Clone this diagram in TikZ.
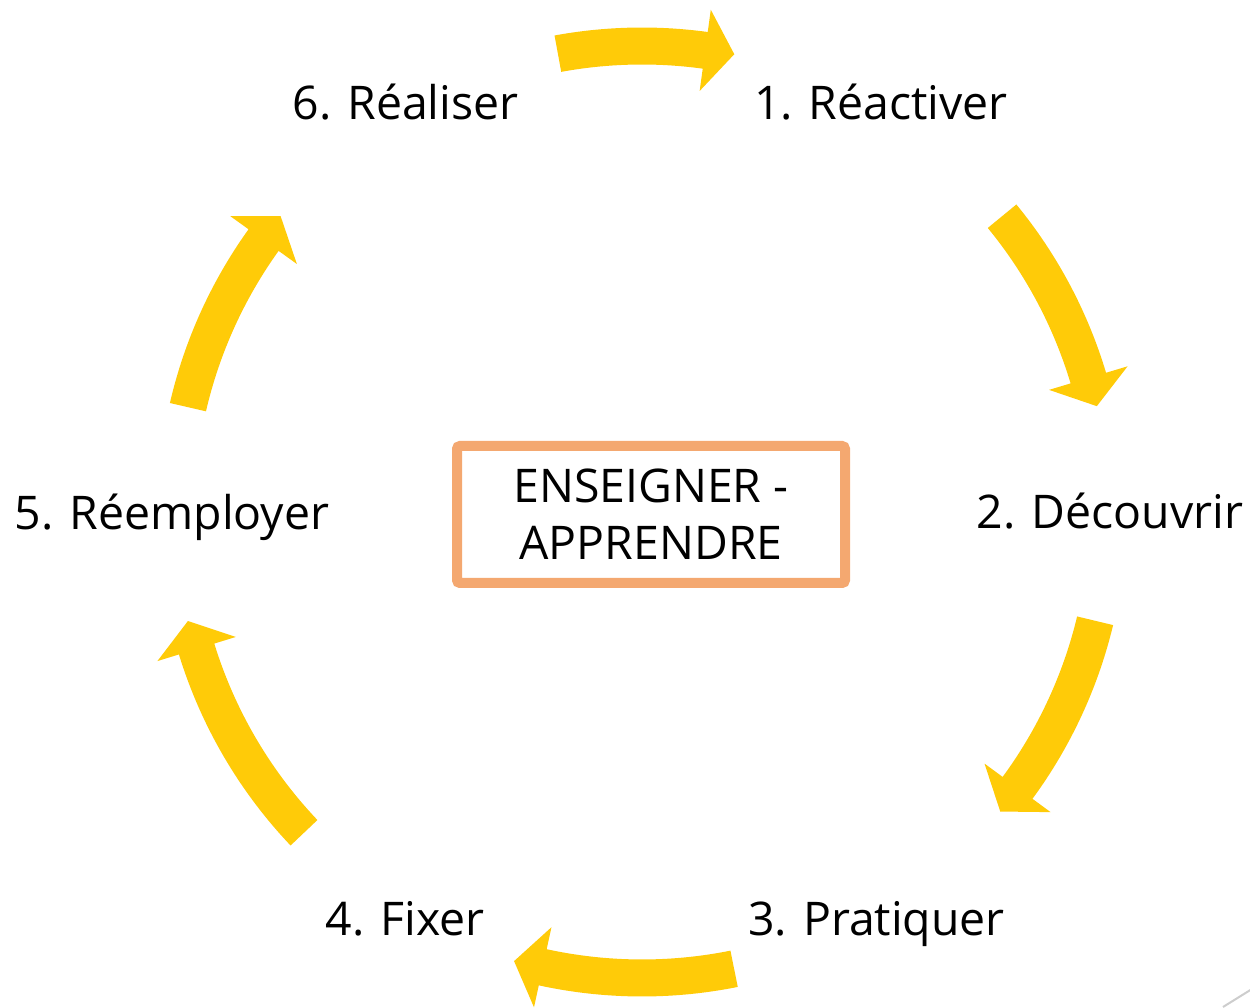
\documentclass[tikz,border=0pt]{standalone}
\usepackage{fontspec}
\setmainfont{Open Sans}
\definecolor{arrowyellow}{RGB}{255,203,8}
\definecolor{boxorange}{RGB}{244,168,112}
\definecolor{slidegray}{RGB}{205,205,205}
\newcommand{\cyclearrow}[2]{%
  \fill[arrowyellow] (#1:484.5) arc[start angle=#1, end angle=#2, radius=484.5]
    -- (#2:507) -- ({#2-3.6}:467) -- (#2:425) -- (#2:447.5)
    arc[start angle=#2, end angle=#1, radius=447.5] -- cycle;}
\begin{document}
\begin{tikzpicture}[x=0.5pt,y=0.5pt,
  lbl/.style={font=\fontsize{23.2}{28.5}\selectfont, inner sep=0pt, anchor=base},
  centerbox/.style={draw=boxorange, line width=5pt, fill=white, rounded corners=1.5pt,
    minimum width=194pt, minimum height=68.5pt, align=center, inner sep=0pt,
    font=\fontsize{23.2}{28.5}\selectfont}]
\useasboundingbox (0,0) rectangle (1250,1008);
% cycle arrows
\begin{scope}[shift={(642,496)}]
  \cyclearrow{100.4}{82.2}
  \cyclearrow{39.4}{16.7}
  \cyclearrow{-13.5}{-36.3}
  \cyclearrow{-78.6}{-102.3}
  \cyclearrow{-136.5}{-162.9}
  \cyclearrow{167.0}{144.3}
\end{scope}
% labels
\node[lbl] (l1) at (881,888) {1. Réactiver};
\node[lbl] (l2) at (1110,479) {2. Découvrir};
\node[lbl] (l3) at (876.5,72) {3. Pratiquer};
\node[lbl] (l4) at (405,72) {4. Fixer};
\node[lbl] (l5) at (172,478) {5. Réemployer};
\node[lbl] (l6) at (405.5,888) {6. Réaliser};
% centre box
\node[centerbox] (core) at (651,493.5) {ENSEIGNER -\\APPRENDRE};
% slide decoration
\draw[slidegray, line width=1pt] (1223,1) -- (1252,19);
\end{tikzpicture}
\end{document}
